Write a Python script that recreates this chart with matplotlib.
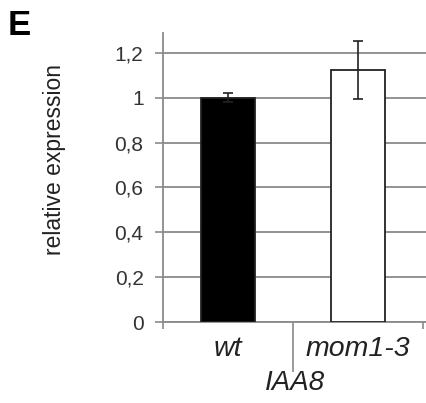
import matplotlib
matplotlib.use('Agg')
import matplotlib.pyplot as plt

# values
genotypes = ['wt', 'mom1-3']
expression = [1.0, 1.125]
errors = [0.02, 0.13]
bar_colors = ['black', 'white']
yticks = [0, 0.2, 0.4, 0.6, 0.8, 1.0, 1.2]
ytick_labels = ['0', '0,2', '0,4', '0,6', '0,8', '1', '1,2']
gene = 'IAA8'

plt.rcParams['font.family'] = ['Liberation Sans', 'DejaVu Sans']

fig = plt.figure(figsize=(4.26, 4.03), dpi=100)
ax = fig.add_axes([163/426, 1 - 322/403, 263/426, 289/403])

grey = '#8a8a8a'
ax.set_axisbelow(True)
ax.yaxis.grid(True, color=grey, linewidth=1.3)

x = [0, 1]
ax.bar(x, expression, width=0.41, color=bar_colors, edgecolor='#222222', linewidth=1.3, zorder=3)
ax.errorbar(x, expression, yerr=errors, fmt='none', ecolor='#222222', elinewidth=1.2,
            capsize=3.8, capthick=1.2, zorder=4)

ax.set_ylim(0, 1.289)
ax.set_xlim(-0.5, 1.523)
ax.set_yticks(yticks)
ax.set_yticklabels(ytick_labels, fontsize=15, color='#333333')
ax.tick_params(axis='y', length=6, width=1.2, color=grey, pad=8)

# category separators as major ticks, names as minor tick labels
ax.set_xticks([-0.5, 0.5, 1.5])
ax.set_xticklabels(['', '', ''])
ax.tick_params(axis='x', which='major', length=5, width=1.2, color=grey)
ax.xaxis.get_major_ticks()[1].tick1line.set_markersize(36)
ax.set_xticks(x, minor=True)
ax.set_xticklabels(genotypes, minor=True, fontsize=20.5, style='italic', color='#222222')
ax.tick_params(axis='x', which='minor', length=0, pad=10)
ax.set_xlabel(gene, fontsize=20, style='italic', color='#222222', labelpad=6)

for side in ['top', 'right']:
    ax.spines[side].set_visible(False)
for side in ['left', 'bottom']:
    ax.spines[side].set_color(grey)
    ax.spines[side].set_linewidth(1.3)

fig.text(54/426, 0.603, 'relative expression', rotation=90, fontsize=16.5,
         color='#222222', ha='center', va='center')
fig.text(8/426, 1 - 35/403, 'E', fontsize=25, fontweight='bold', va='baseline')

fig.savefig('out.png', dpi=100)
